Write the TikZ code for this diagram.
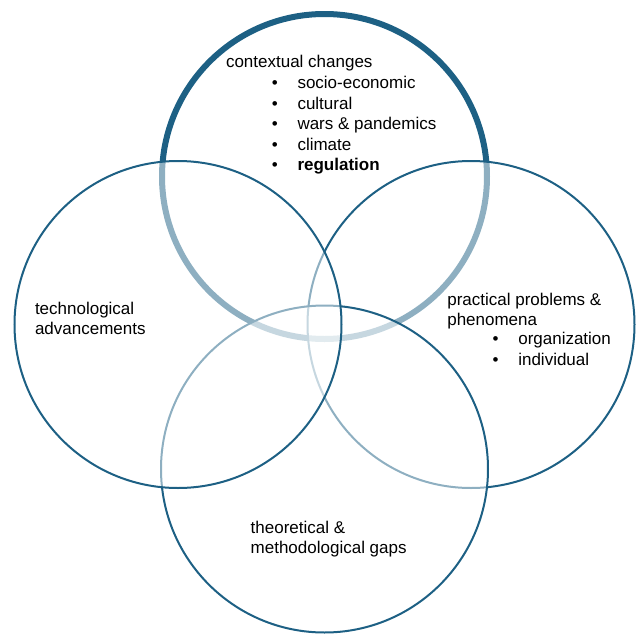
\documentclass[tikz,border=0pt]{standalone}
\usepackage{fontspec}
\setmainfont{Liberation Sans}
\definecolor{ringblue}{RGB}{29,96,132}
\begin{document}
\begin{tikzpicture}[x=1pt,y=-1pt,
  ring/.style={circle, draw=ringblue, line width=2pt, fill=white, fill opacity=0.5,
               draw opacity=1, inner sep=0pt, minimum size=327pt},
  txt/.style={anchor=base west, inner sep=0pt, outer sep=0pt,
              font=\fontsize{17}{20}\selectfont, text=black, text opacity=1}]
\useasboundingbox (0,0) rectangle (641,635);

% four overlapping circles, each with a half-transparent white fill,
% stacked so that the later ones veil the outlines beneath them
\node[ring, line width=6pt, minimum size=325pt] (ctxc) at (324.5,176.5) {};
\node[ring] (prac) at (471,324.5) {};
\node[ring] (theo) at (324.5,469) {};
\node[ring] (tech) at (178,324.5) {};

% contextual changes
\node[txt] (ctx) at (226,67.7) {contextual changes};
\node[txt] (cb1) at (271.8,88.3) {•};
\node[txt] (ct1) at (297.5,88.3) {socio-economic};
\node[txt] (cb2) at (271.8,109) {•};
\node[txt] (ct2) at (297.5,109) {cultural};
\node[txt] (cb3) at (271.8,129.5) {•};
\node[txt] (ct3) at (297.5,129.5) {wars \& pandemics};
\node[txt] (cb4) at (271.8,150) {•};
\node[txt] (ct4) at (297.5,150) {climate};
\node[txt] (cb5) at (271.8,170.5) {•};
\node[txt] (ct5) at (297.5,170.5) {\bfseries regulation};

% technological advancements
\node[txt] (tech1) at (35,314) {technological};
\node[txt] (tech2) at (35,334.3) {advancements};

% practical problems & phenomena
\node[txt] (pr1) at (447.3,305) {practical problems \&};
\node[txt] (pr2) at (447.3,325) {phenomena};
\node[txt] (pb1) at (492.5,344.5) {•};
\node[txt] (pt1) at (518.3,344.5) {organization};
\node[txt] (pb2) at (492.5,365) {•};
\node[txt] (pt2) at (518.3,365) {individual};

% theoretical & methodological gaps
\node[txt] (th1) at (250.7,533.3) {theoretical \&};
\node[txt] (th2) at (250.7,553.3) {methodological gaps};
\end{tikzpicture}
\end{document}
